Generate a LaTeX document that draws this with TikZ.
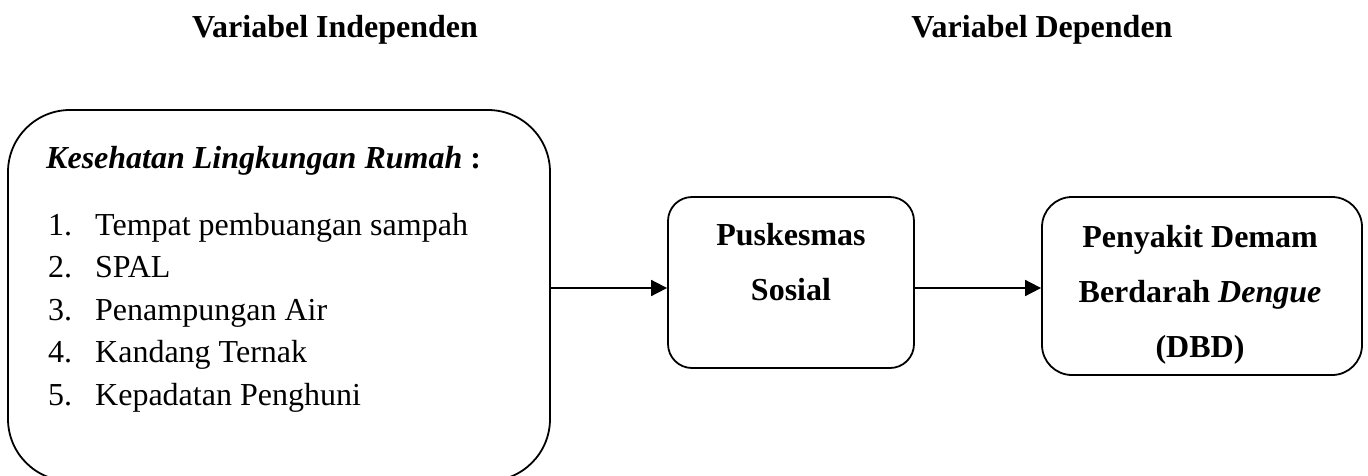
\documentclass[tikz,border=0pt]{standalone}
\usepackage{fontspec}
\setmainfont{Liberation Serif}
\usetikzlibrary{arrows.meta}
\begin{document}
\begin{tikzpicture}[x=1pt,y=-1pt,
  box/.style={draw, line width=1.8pt, inner sep=0pt},
  txt/.style={inner sep=0pt, font=\fontsize{32}{38}\selectfont},
  arr/.style={line width=1.8pt, -{Triangle[length=16pt,width=16pt]}, shorten >=0pt}]
\clip (0,0) rectangle (1368,475);
% titles
\node[txt, anchor=base] (t1) at (335,37) {\bfseries Variabel Independen};
\node[txt, anchor=base] (t2) at (1042,37) {\bfseries Variabel Dependen};
% boxes
\node[box, rounded corners=62pt, minimum width=542pt, minimum height=371pt] (L) at (279,295.5) {};
\node[box, rounded corners=24pt, minimum width=246pt, minimum height=171pt] (M) at (791,282.5) {};
\node[box, rounded corners=30pt, minimum width=320pt, minimum height=178pt] (R) at (1202,286) {};
% left box text
\node[txt, anchor=base west] (h) at (46,168) {\textbf{\textit{Kesehatan Lingkungan Rumah}} \textbf{:}};
\node[txt, anchor=base west] (n1) at (48,235) {1.};
\node[txt, anchor=base west] (i1) at (95,235) {Tempat pembuangan sampah};
\node[txt, anchor=base west] (n2) at (48,277.5) {2.};
\node[txt, anchor=base west] (i2) at (95,277.5) {SPAL};
\node[txt, anchor=base west] (n3) at (48,320) {3.};
\node[txt, anchor=base west] (i3) at (95,320) {Penampungan Air};
\node[txt, anchor=base west] (n4) at (48,362.5) {4.};
\node[txt, anchor=base west] (i4) at (95,362.5) {Kandang Ternak};
\node[txt, anchor=base west] (n5) at (48,405) {5.};
\node[txt, anchor=base west] (i5) at (95,405) {Kepadatan Penghuni};
% middle box text
\node[txt, anchor=base] (m1) at (791,245) {\bfseries Puskesmas};
\node[txt, anchor=base] (m2) at (791,300) {\bfseries Sosial};
% right box text
\node[txt, anchor=base] (r1) at (1200,247) {\bfseries Penyakit Demam};
\node[txt, anchor=base] (r2) at (1200,302) {\bfseries Berdarah \textit{Dengue}};
\node[txt, anchor=base] (r3) at (1200,357) {\bfseries (DBD)};
% arrows
\coordinate (ay) at (0,288);
\draw[arr] (L.east |- ay) -- (M.west |- ay);
\draw[arr] (M.east |- ay) -- (R.west |- ay);
\end{tikzpicture}
\end{document}
